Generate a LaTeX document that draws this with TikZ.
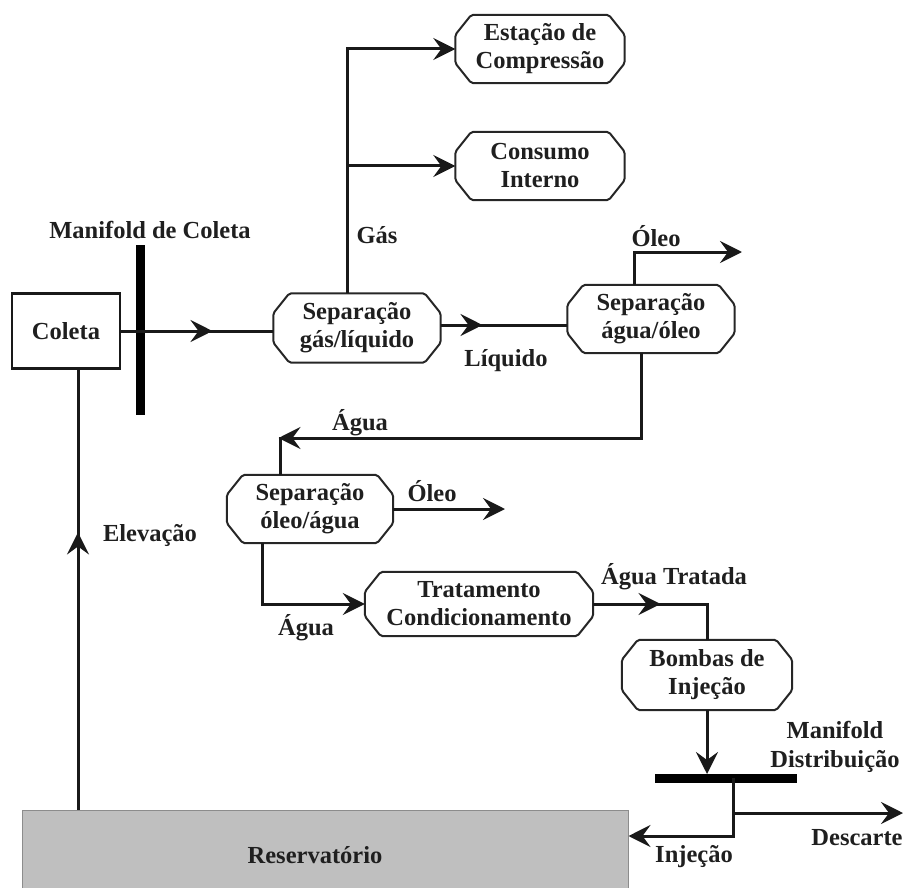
\documentclass[tikz,border=0pt]{standalone}
\usepackage{fontspec}
\setmainfont{Liberation Serif}
\usetikzlibrary{arrows.meta,calc,decorations.markings}
\newcommand\cx{16}
\newcommand\cy{20}
\newcommand\octo[1]{\draw[octline] ($(#1.north west)+(\cx,0)$) -- ($(#1.north east)+(-\cx,0)$) -- ($(#1.north east)+(0,\cy)$) -- ($(#1.south east)+(0,-\cy)$) -- ($(#1.south east)+(-\cx,0)$) -- ($(#1.south west)+(\cx,0)$) -- ($(#1.south west)+(0,-\cy)$) -- ($(#1.north west)+(0,\cy)$) -- cycle;}
\begin{document}
\begin{tikzpicture}[x=1pt,y=-1pt,
  font=\fontsize{24.5}{28}\selectfont\bfseries,
  every node/.style={text=black!88},
  oct/.style={rectangle, inner sep=0pt, align=center},
  octline/.style={draw=black!85, line width=2pt, rounded corners=2pt},
  flow/.style={line width=3pt, draw=black!90},
  tip/.style={-{Stealth[length=22pt,width=22pt,inset=8pt]}},
  midarrow/.style={postaction={decorate},decoration={markings,
     mark=at position #1 with {\arrow{Stealth[length=22pt,width=22pt,inset=8pt]}}}},
  bar/.style={line width=9pt, draw=black},
  lbl/.style={inner sep=0pt, align=center}]
\path[use as bounding box] (0,0) rectangle (908,888);

% nodes
\node[draw=black!90, line width=2.5pt, minimum width=108pt, minimum height=75pt, inner sep=0pt] (coleta) at (66,331) {Coleta};
\node[oct, minimum width=167pt, minimum height=69pt] (sepgl) at (357,328) {Separação\\gás/líquido};
\node[oct, minimum width=169pt, minimum height=68pt] (estacao) at (540,49) {Estação de\\Compressão};
\node[oct, minimum width=169pt, minimum height=68pt] (consumo) at (540,166) {Consumo\\Interno};
\node[oct, minimum width=167pt, minimum height=68pt] (sepao) at (651,319) {Separação\\água/óleo};
\node[oct, minimum width=166pt, minimum height=68pt] (sepoa) at (310,509) {Separação\\óleo/água};
\node[oct, minimum width=228pt, minimum height=64pt] (trat) at (479,604) {Tratamento\\Condicionamento};
\node[oct, minimum width=170pt, minimum height=70pt] (bombas) at (707,675) {Bombas de\\Injeção};
\node[draw=black!45, line width=1pt, fill=black!25, minimum width=606pt, minimum height=80pt, inner sep=0pt] (reserv) at (325,850) {};
\node[lbl] (reservlbl) at (315,855) {Reservatório};

\octo{sepgl}
\octo{estacao}
\octo{consumo}
\octo{sepao}
\octo{sepoa}
\octo{trat}
\octo{bombas}

% coordinates
\coordinate (mc1) at (140,245);
\coordinate (mc2) at (140,415);
\coordinate (gx) at (347,0);
\coordinate (oleo1) at (742,252);
\coordinate (acorner) at (280,438);
\coordinate (oleo2) at (505,509);
\coordinate (md1) at (655,778);
\coordinate (md2) at (797,778);
\coordinate (mdx) at (733,778);
\coordinate (desc) at (903,813);
\coordinate (injy) at (0,836);
\coordinate (elx) at (78,0);

% manifold bars
\draw[bar] (mc1) -- (mc2);
\draw[bar] (md1) -- (md2);

% connectors
\draw[flow, midarrow=0.6] (coleta.east) -- (coleta.east -| sepgl.west);
\draw[flow, tip] (sepgl.north -| gx) |- (estacao.west);
\draw[flow, tip] (gx |- consumo.west) -- (consumo.west);
\draw[flow, midarrow=0.33] (sepgl.east |- 0,325) -- (sepao.west |- 0,325);
\draw[flow, tip] ($(sepao.north)+(-17,0)$) |- (oleo1);
\draw[flow] ($(sepao.south)+(-10,0)$) |- (acorner) -- (acorner |- sepoa.north);
\draw[flow, tip] ($(acorner)+(14,0)$) -- ($(acorner)+(-1.5,0)$);
\draw[flow, tip] (sepoa.east) -- (oleo2);
\draw[flow, tip] ($(sepoa.south)+(-48,0)$) |- (trat.west);
\draw[flow, midarrow=0.45] (trat.east) -| (bombas.north);
\draw[flow, tip] (bombas.south) -- ($(bombas.south |- md1)+(0,-4)$);
\draw[flow, tip] (mdx) |- (reserv.east |- injy);
\draw[flow, tip] (mdx |- desc) -- (desc);
\draw[flow, midarrow=0.63] (reserv.north -| elx) -- (coleta.south -| elx);

% labels
\node[lbl] (l1) at (150,230) {Manifold de Coleta};
\node[lbl] (l2) at (377,235) {Gás};
\node[lbl] (l3) at (506,361) {Líquido};
\node[lbl] (l4) at (656,236) {Óleo};
\node[lbl] (l5) at (360,423) {Água};
\node[lbl] (l6) at (432,491) {Óleo};
\node[lbl] (l7) at (306,628) {Água};
\node[lbl] (l8) at (674,577) {Água Tratada};
\node[lbl, font=\fontsize{24.5}{29}\selectfont\bfseries] (l9) at (835,747) {Manifold\\Distribuição};
\node[lbl] (l10) at (857,838) {Descarte};
\node[lbl] (l11) at (694,857) {Injeção};
\node[lbl] (l12) at (150,535) {Elevação};
\end{tikzpicture}
\end{document}
